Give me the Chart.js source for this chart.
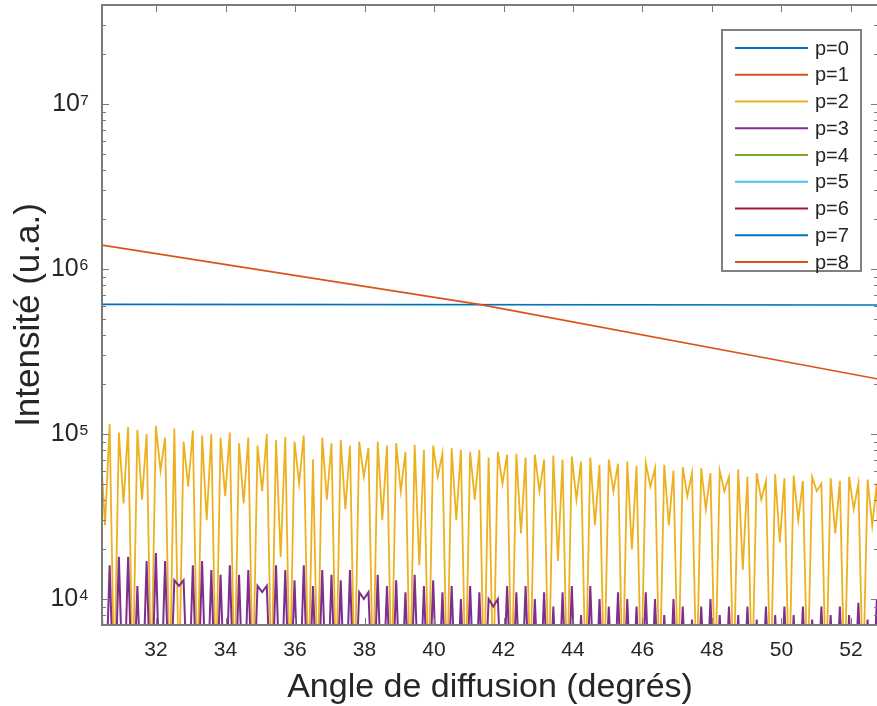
<!DOCTYPE html>
<html>
<head>
<meta charset="utf-8">
<script src="https://cdn.jsdelivr.net/npm/chart.js@4.4.1/dist/chart.umd.min.js"></script>
<style>
  html, body { margin: 0; padding: 0; background: #fff; overflow: hidden; }
  canvas { display: block; }
</style>
</head>
<body>
<canvas id="chart" width="880" height="706"></canvas>
<script>
// Scattering angle grid (degrees): p=2 and p=3 alternate peak / trough on it
const angleStart = 30.4;
const angleStep = 0.133;

// p=2, intensity in thousands (peak, trough, peak, trough ...)
const p2Kilo = [
    85, 28, 115, 3, 102, 38, 110, 3, 106, 40,
    100, 3, 112, 60, 95, 3, 108, 3, 90, 48,
    105, 3, 98, 30, 100, 3, 95, 42, 102, 3,
    88, 38, 95, 3, 85, 45, 100, 3, 92, 18,
    96, 3, 90, 50, 98, 3, 70, 3, 95, 40,
    88, 3, 92, 35, 85, 3, 90, 55, 82, 3,
    90, 30, 85, 3, 88, 45, 78, 3, 86, 16,
    80, 3, 85, 55, 76, 3, 82, 30, 80, 3,
    78, 40, 80, 3, 72, 3, 78, 50, 75, 3,
    76, 25, 72, 3, 75, 45, 70, 3, 74, 17,
    70, 3, 73, 40, 68, 3, 72, 28, 65, 3,
    70, 45, 66, 3, 68, 20, 64, 3, 67, 48,
    62, 3, 65, 28, 60, 3, 63, 42, 58, 3,
    62, 35, 58, 3, 60, 45, 55, 3, 61, 15,
    55, 3, 58, 40, 52, 3, 57, 22, 54, 3,
    56, 30, 52, 3, 55, 45, 50, 3, 54, 25,
    52, 3, 55, 35, 50, 3, 53, 28, 50, 3
];

// p=3, intensity in thousands, same grid
const p3Kilo = [
    16, 2, 16, 2, 18, 2, 18, 2, 12, 2,
    17, 2, 19, 2, 17, 2, 13, 12, 13, 2,
    16, 2, 17, 2, 15, 2, 14, 2, 16, 2,
    14, 2, 15, 2, 12, 11, 12, 2, 16, 2,
    15, 2, 13, 2, 16, 2, 12, 2, 15, 2,
    14, 2, 13, 2, 15, 2, 11, 10, 11, 2,
    14, 2, 12, 2, 13, 2, 11, 2, 14, 2,
    12, 2, 13, 2, 11, 2, 12, 2, 10, 2,
    12, 2, 11, 2, 10, 9, 10, 2, 12, 2,
    11, 2, 12, 2, 10, 2, 11, 2, 9, 2,
    11, 2, 12, 2, 8, 2, 12, 2, 10, 2,
    9, 2, 11, 2, 10, 2, 9, 2, 11, 2,
    10, 2, 8, 2, 10, 2, 9, 2, 7.5, 2,
    9, 2, 10, 2, 8, 2, 9, 2, 8, 2,
    9, 2, 7.5, 2, 9, 2, 8, 2, 9, 2,
    8, 2, 9, 2, 7.5, 2, 9, 2, 8, 2,
    9, 2, 8, 2, 9.5, 2, 7.5, 2, 10, 2
];

// p=0 and p=1 are smooth curves, read at a few angles
const p0Angles = [30.4, 52.8];
const p0Values = [6.1e5, 6.05e5];
const p1Angles = [30.4, 41.3, 52.8];
const p1Values = [1.4e6, 6.1e5, 2.15e5];

const seriesNames = ["p=0", "p=1", "p=2", "p=3", "p=4", "p=5", "p=6", "p=7", "p=8"];
const seriesColors = ["#0072BD", "#D95319", "#EDB120", "#7E2F8E", "#77AC30",
                      "#4DBEEE", "#A2142F", "#0072BD", "#D95319"];
const seriesWidths = [1.6, 1.6, 1.8, 2, 1.6, 1.6, 1.6, 1.6, 1.6];

const xTicks = [32, 34, 36, 38, 40, 42, 44, 46, 48, 50, 52];
const yTicks = [1e4, 1e5, 1e6, 1e7];
const yTickLabels = ["10\u2074", "10\u2075", "10\u2076", "10\u2077"];

const FONT = "'Liberation Sans', Arial, Helvetica, sans-serif";
const AXIS_GREY = "#7b7b7b";

function pairs(xs, ys) {
    return ys.map((v, i) => ({ x: xs[i], y: v }));
}
function gridPairs(kilo) {
    return kilo.map((v, i) => ({ x: angleStart + i * angleStep, y: v * 1000 }));
}

const seriesData = [
    pairs(p0Angles, p0Values),
    pairs(p1Angles, p1Values),
    gridPairs(p2Kilo),
    gridPairs(p3Kilo),
    [], [], [], [], []   // p=4..p=8: nothing visible in the plotted range
];

// MATLAB-like box with inward ticks on all four sides, plus the legend
const boxPlugin = {
    id: "matlabBox",
    afterDatasetsDraw(chart) {
        const { ctx, chartArea: a, scales: { x, y } } = chart;
        ctx.save();
        ctx.strokeStyle = AXIS_GREY;
        ctx.lineWidth = 1;
        ctx.beginPath();
        xTicks.forEach(v => {
            const px = Math.round(x.getPixelForValue(v)) + 0.5;
            ctx.moveTo(px, a.bottom); ctx.lineTo(px, a.bottom - 7);
            ctx.moveTo(px, a.top); ctx.lineTo(px, a.top + 7);
        });
        for (let e = 3; e <= 7; e++) {
            for (let k = 1; k <= 9; k++) {
                const v = k * Math.pow(10, e);
                if (v < y.min || v > y.max) continue;
                const py = Math.round(y.getPixelForValue(v)) + 0.5;
                const len = k === 1 ? 7 : 4;
                ctx.moveTo(a.left, py); ctx.lineTo(a.left + len, py);
                ctx.moveTo(a.right, py); ctx.lineTo(a.right - len, py);
            }
        }
        ctx.stroke();
        ctx.lineWidth = 2;
        ctx.strokeRect(a.left, a.top, a.right - a.left, a.bottom - a.top);
        ctx.restore();
    },
    afterDraw(chart) {
        const { ctx } = chart;
        const left = 722, top = 30, w = 139, h = 241;
        ctx.save();
        ctx.fillStyle = "#fff";
        ctx.fillRect(left, top, w, h);
        ctx.strokeStyle = "#808080";
        ctx.lineWidth = 2;
        ctx.strokeRect(left, top, w, h);
        ctx.font = "20px " + FONT;
        ctx.textBaseline = "middle";
        ctx.textAlign = "left";
        chart.data.datasets.forEach((ds, i) => {
            const ly = top + 18 + i * 26.75;
            ctx.strokeStyle = ds.borderColor;
            ctx.lineWidth = 2;
            ctx.beginPath();
            ctx.moveTo(735, ly); ctx.lineTo(808, ly);
            ctx.stroke();
            ctx.fillStyle = "#262626";
            ctx.fillText(ds.label, 815, ly + 1);
        });
        ctx.restore();
    }
};

new Chart(document.getElementById("chart"), {
    type: "line",
    data: {
        datasets: seriesNames.map((name, i) => ({
            label: name,
            data: seriesData[i],
            borderColor: seriesColors[i],
            backgroundColor: seriesColors[i],
            borderWidth: seriesWidths[i],
            pointRadius: 0,
            tension: 0,
            fill: false,
            order: seriesNames.length - i
        }))
    },
    options: {
        responsive: false,
        animation: false,
        devicePixelRatio: 1,
        layout: { padding: { left: 0, right: 2, top: 5, bottom: 0 } },
        plugins: {
            legend: { display: false },
            tooltip: { enabled: false }
        },
        scales: {
            x: {
                type: "linear",
                min: 30.446,
                max: 52.777,
                grid: { display: false },
                border: { display: false },
                afterFit: s => {
                    s.height = 81;
                    s.paddingLeft = 0;
                    s.paddingRight = 0;
                },
                afterBuildTicks: s => { s.ticks = xTicks.map(v => ({ value: v })); },
                ticks: {
                    color: "#262626",
                    font: { family: FONT, size: 21 },
                    padding: 5,
                    maxRotation: 0,
                    autoSkip: false
                },
                title: {
                    display: true,
                    text: "Angle de diffusion (degrés)",
                    color: "#262626",
                    font: { family: FONT, size: 34, lineHeight: 1.1 },
                    padding: { top: 0, bottom: 0 }
                }
            },
            y: {
                type: "logarithmic",
                min: 6957,
                max: 3.98e7,
                grid: { display: false },
                border: { display: false },
                afterFit: s => {
                    s.width = 102;
                    s.paddingTop = 0;
                    s.paddingBottom = 0;
                },
                afterBuildTicks: s => { s.ticks = yTicks.map(v => ({ value: v })); },
                ticks: {
                    color: "#262626",
                    font: { family: FONT, size: 25 },
                    padding: 5,
                    autoSkip: false,
                    callback: (v, i) => yTickLabels[i]
                },
                title: {
                    display: true,
                    text: "Intensité (u.a.)",
                    color: "#262626",
                    font: { family: FONT, size: 35, lineHeight: 1.1 },
                    padding: { top: 10, bottom: 0 }
                }
            }
        }
    },
    plugins: [boxPlugin]
});
</script>
</body>
</html>
